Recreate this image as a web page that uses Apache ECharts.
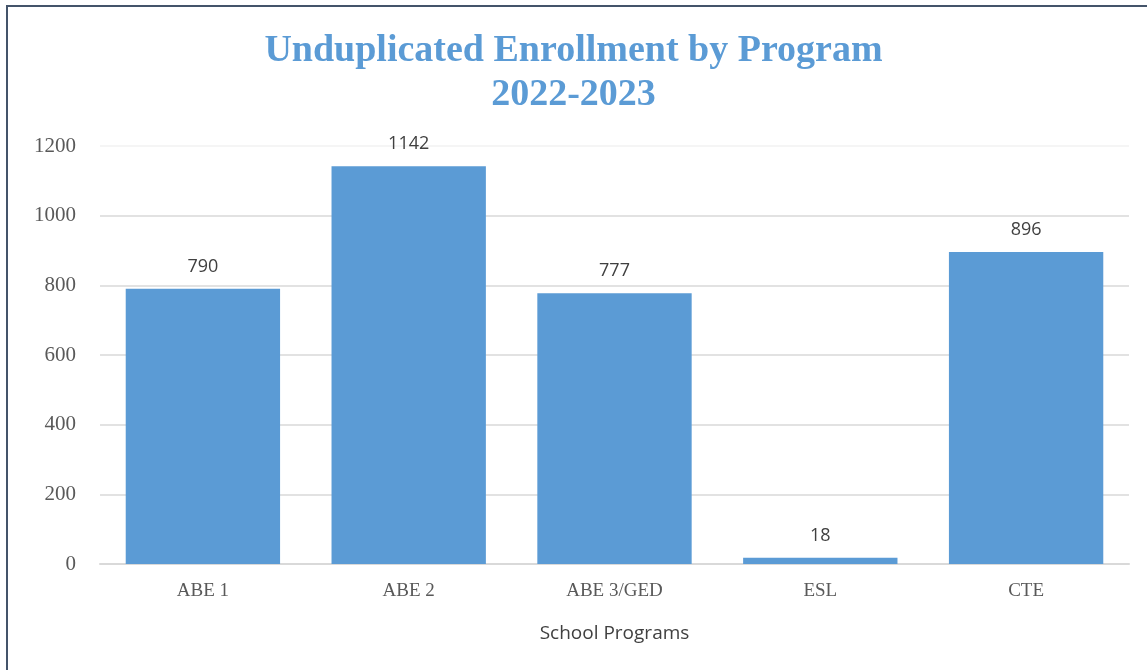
<!DOCTYPE html>
<html>
<head>
<meta charset="utf-8">
<script src="https://cdn.jsdelivr.net/npm/echarts@6/dist/echarts.min.js"></script>
<style>
  html, body { margin: 0; padding: 0; background: #fff; }
  #chart { width: 1147px; height: 670px; }
</style>
</head>
<body>
<div id="chart"></div>
<script>
const programs = ['ABE 1', 'ABE 2', 'ABE 3/GED', 'ESL', 'CTE']
const enrollment = [790, 1142, 777, 18, 896]
const yTicks = [0, 200, 400, 600, 800, 1000, 1200]

const chart = echarts.init(document.getElementById('chart'))

const option = {
  backgroundColor: '#ffffff',
  animation: false,
  graphic: [
    {
      type: 'rect',
      shape: { x: 7, y: 6, width: 1400, height: 900 },
      style: { fill: 'none', stroke: '#44546a', lineWidth: 2 },
      silent: true
    }
  ],
  title: {
    text: 'Unduplicated Enrollment by Program\n2022-2023',
    left: 'center',
    top: 24,
    textStyle: {
      fontFamily: 'Liberation Serif',
      fontWeight: 'bold',
      fontSize: 38,
      lineHeight: 44,
      color: '#5b9bd5'
    }
  },
  grid: {
    left: 100,
    right: 18,
    top: 146,
    bottom: 106
  },
  xAxis: {
    type: 'category',
    data: programs,
    name: 'School Programs',
    nameLocation: 'middle',
    nameGap: 60,
    nameTextStyle: {
      fontFamily: 'Open Sans',
      fontSize: 19,
      color: '#404040'
    },
    axisTick: { show: false },
    axisLine: { lineStyle: { color: '#d9d9d9', width: 2 } },
    axisLabel: {
      margin: 18,
      fontFamily: 'Liberation Serif',
      fontSize: 19,
      color: '#595959'
    }
  },
  yAxis: {
    type: 'value',
    min: yTicks[0],
    max: yTicks[yTicks.length - 1],
    interval: 200,
    axisLine: { show: false },
    axisTick: { show: false },
    axisLabel: {
      margin: 24,
      fontFamily: 'Liberation Serif',
      fontSize: 21,
      color: '#595959',
      formatter: v => String(v)
    },
    splitLine: {
      lineStyle: {
        color: ['#d9d9d9', '#d9d9d9', '#d9d9d9', '#d9d9d9', '#d9d9d9', '#d9d9d9', '#f2f2f2'],
        width: 1.5
      }
    }
  },
  series: [
    {
      type: 'bar',
      data: enrollment,
      barCategoryGap: '25%',
      itemStyle: { color: '#5b9bd5' },
      label: {
        show: true,
        position: 'top',
        distance: 13,
        fontFamily: 'Open Sans',
        fontSize: 18,
        color: '#404040'
      }
    }
  ]
}

chart.setOption(option)
</script>
</body>
</html>
